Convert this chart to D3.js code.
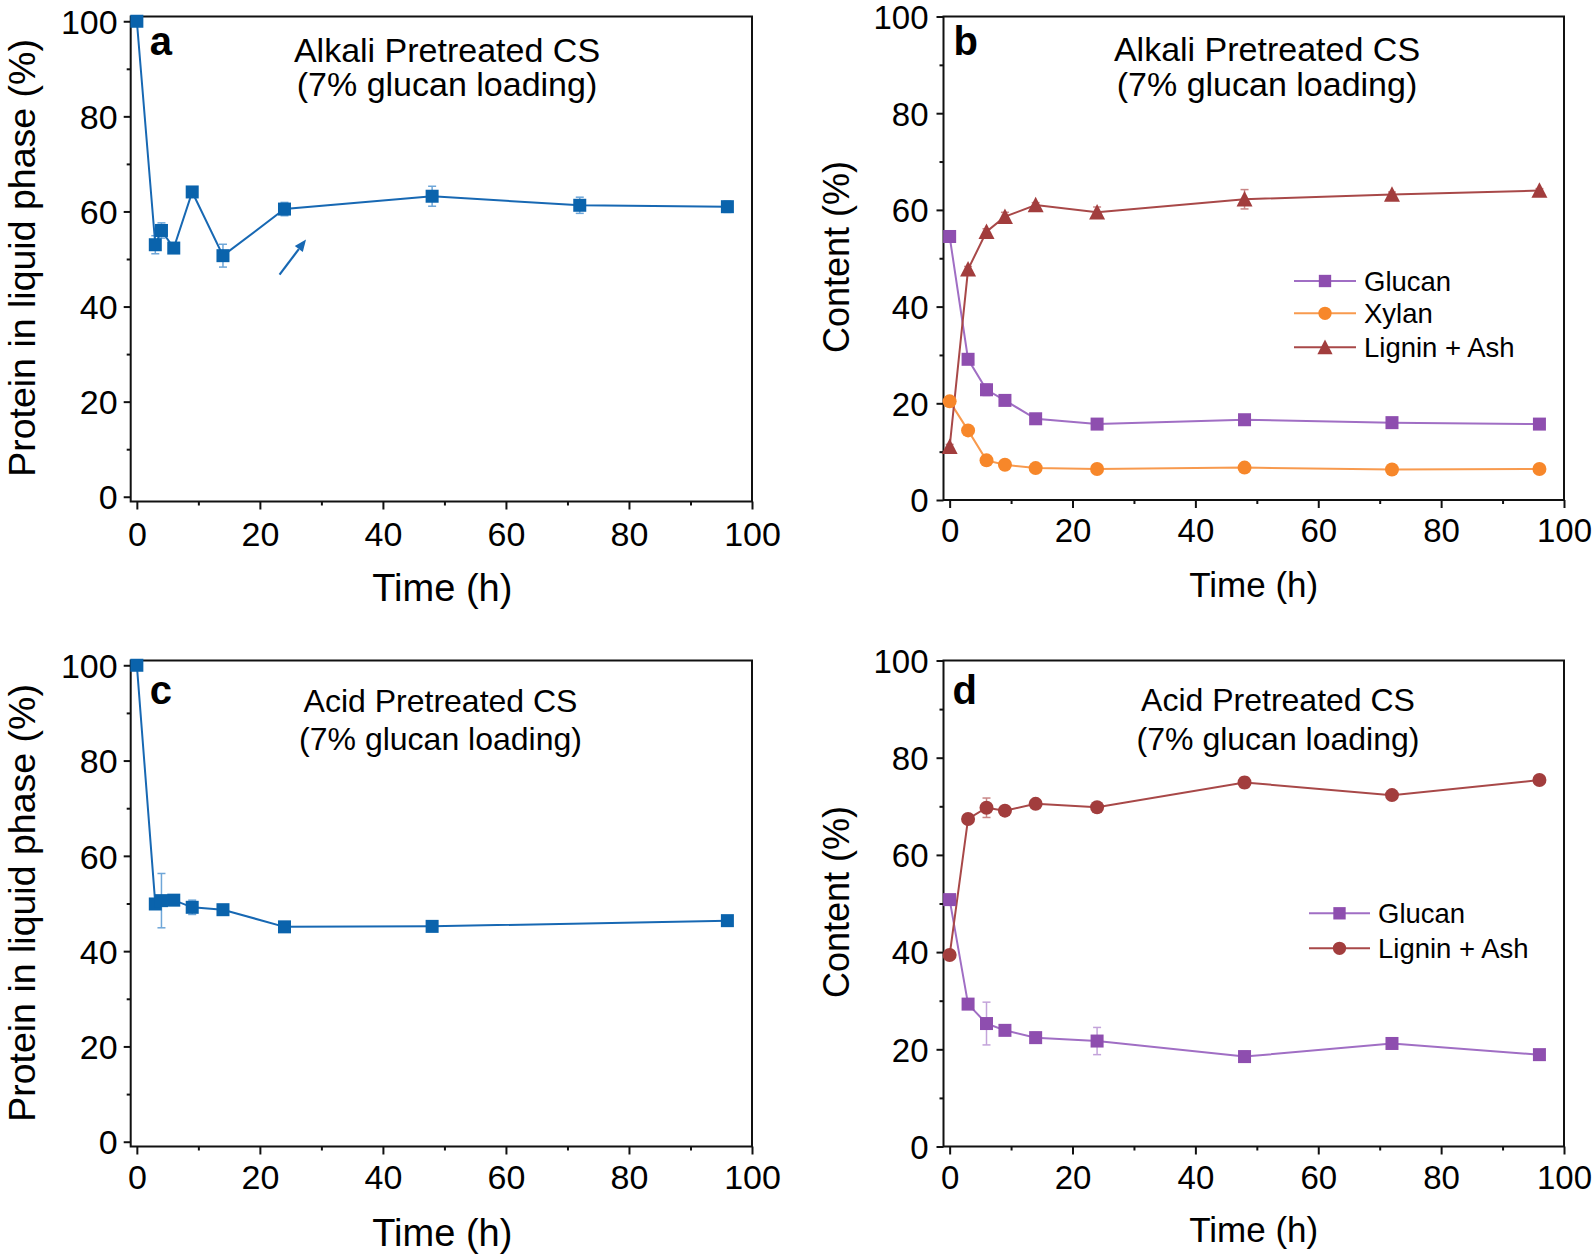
<!DOCTYPE html>
<html>
<head>
<meta charset="utf-8">
<script src="https://cdn.jsdelivr.net/npm/d3@7"></script>
<style>
  html, body { margin: 0; padding: 0; background: #fff; }
  svg { display: block; }
  text { font-family: "Liberation Sans", Arial, Helvetica, sans-serif; fill: #000; }
</style>
</head>
<body>
<svg id="chart" width="1595" height="1256"></svg>
<script>
// ---------------- DATA ----------------
const xTicks = [0, 20, 40, 60, 80, 100];
const xMinorTicks = [10, 30, 50, 70, 90];
const yTicks = [0, 20, 40, 60, 80, 100];
const yMinorTicks = [10, 30, 50, 70, 90];

// Panel a: alkali pretreated, protein in liquid phase
const timeA = [0, 3, 4, 6, 9, 14, 24, 48, 72, 96];
const proteinA = [100, 53.0, 56.0, 52.3, 64.1, 50.7, 60.5, 63.2, 61.3, 61.0];
const proteinAErr = [0, 1.9, 1.6, 0.6, 0.9, 2.4, 1.4, 2.1, 1.7, 1.2];
const arrowA = [[23.2, 46.7], [27.5, 54.1]];   // annotation arrow (time, %)

// Panel b: alkali pretreated, solid composition
const timeB = [0, 3, 6, 9, 14, 24, 48, 72, 96];
const glucanB = [54.5, 29.1, 22.8, 20.6, 16.8, 15.7, 16.6, 16.0, 15.7];
const glucanBErr = [0.4, 0.5, 1.2, 1.0, 0.6, 0.4, 0.5, 0.4, 0.4];
const xylanB = [20.4, 14.4, 8.2, 7.3, 6.6, 6.4, 6.7, 6.3, 6.4];
const xylanBErr = [0.3, 0.4, 0.4, 0.3, 0.3, 0.3, 0.3, 0.3, 0.3];
const ligninB = [11.0, 47.7, 55.5, 58.6, 61.0, 59.5, 62.2, 63.2, 64.0];
const ligninBErr = [0.5, 0.6, 0.6, 0.9, 0.5, 1.1, 2.0, 0.5, 0.4];

// Panel c: acid pretreated, protein in liquid phase
const timeC = [0, 3, 4, 6, 9, 14, 24, 48, 96];
const proteinC = [100, 49.9, 50.6, 50.7, 49.2, 48.7, 45.1, 45.2, 46.4];
const proteinCErr = [0, 0.5, 5.7, 0.8, 1.5, 0.6, 0.4, 0.4, 0.5];

// Panel d: acid pretreated, solid composition
const timeD = [0, 3, 6, 9, 14, 24, 48, 72, 96];
const glucanD = [50.8, 29.3, 25.3, 23.9, 22.4, 21.7, 18.5, 21.2, 18.9];
const glucanDErr = [0.5, 0.6, 4.4, 0.6, 1.1, 2.8, 1.1, 0.5, 0.4];
const ligninD = [39.4, 67.4, 69.7, 69.1, 70.5, 69.8, 74.9, 72.3, 75.4];
const ligninDErr = [0.4, 0.5, 2.0, 0.5, 0.6, 0.4, 1.1, 0.5, 0.4];

// ---------------- STYLE ----------------
const COLORS = {
  blue:   { marker: "#0A63AC", line: "#1768B3", err: "#6EA6D8" },
  purple: { marker: "#8E4EAF", line: "#A06EC4", err: "#C3A3DA" },
  orange: { marker: "#F7872A", line: "#F89A4E", err: "#FBC08F" },
  brown:  { marker: "#A23D3D", line: "#A84848", err: "#C98686" }
};

const svg = d3.select("#chart");

function makePanel(cfg) {
  const g = svg.append("g");
  const x = d3.scaleLinear().domain(cfg.xDomain).range([cfg.L, cfg.R]);
  const y = d3.scaleLinear().domain(cfg.yDomain).range([cfg.B, cfg.T]);

  // frame
  g.append("rect")
    .attr("x", cfg.L).attr("y", cfg.T)
    .attr("width", cfg.R - cfg.L).attr("height", cfg.B - cfg.T)
    .attr("fill", "none").attr("stroke", "#111").attr("stroke-width", 2);

  // bottom axis: major + minor
  const xAxis = d3.axisBottom(x).tickValues(xTicks).tickSize(8).tickSizeOuter(0).tickPadding(8);
  const xa = g.append("g").attr("transform", `translate(0,${cfg.B})`).call(xAxis);
  xa.select(".domain").remove();
  xa.selectAll(".tick line").attr("stroke", "#111").attr("stroke-width", 2);
  xa.selectAll(".tick text").attr("font-size", cfg.tickFont)
    .attr("font-family", '"Liberation Sans", Arial, sans-serif').attr("fill", "#000")
    .attr("dy", null).attr("y", cfg.xLabelOffset).attr("dominant-baseline", "alphabetic");
  const xm = g.append("g").attr("transform", `translate(0,${cfg.B})`)
    .call(d3.axisBottom(x).tickValues(xMinorTicks).tickSize(4).tickFormat(""));
  xm.select(".domain").remove();
  xm.selectAll(".tick line").attr("stroke", "#111").attr("stroke-width", 2);

  // left axis: major + minor
  const yAxis = d3.axisLeft(y).tickValues(yTicks).tickSize(7).tickPadding(cfg.yPad);
  const ya = g.append("g").attr("transform", `translate(${cfg.L},0)`).call(yAxis);
  ya.select(".domain").remove();
  ya.selectAll(".tick line").attr("stroke", "#111").attr("stroke-width", 2);
  ya.selectAll(".tick text").attr("font-size", cfg.tickFont)
    .attr("font-family", '"Liberation Sans", Arial, sans-serif').attr("fill", "#000")
    .attr("dy", "0.36em");
  const ym = g.append("g").attr("transform", `translate(${cfg.L},0)`)
    .call(d3.axisLeft(y).tickValues(yMinorTicks).tickSize(4).tickFormat(""));
  ym.select(".domain").remove();
  ym.selectAll(".tick line").attr("stroke", "#111").attr("stroke-width", 2);

  // axis titles
  g.append("text")
    .attr("x", (cfg.L + cfg.R) / 2 + cfg.xTitleDx).attr("y", cfg.xTitleY)
    .attr("text-anchor", "middle").attr("font-size", cfg.axisFont)
    .text("Time (h)");
  g.append("text")
    .attr("transform", `translate(${cfg.yTitleX},${cfg.yTitleCY}) rotate(-90)`)
    .attr("text-anchor", "middle").attr("font-size", cfg.yAxisFont)
    .text(cfg.yTitle);

  // panel letter
  g.append("text").attr("x", cfg.L + cfg.letterDx).attr("y", cfg.letterY)
    .attr("font-size", 40).attr("font-weight", "bold").text(cfg.letter);

  // panel title
  cfg.title.forEach((line, i) => {
    g.append("text").attr("x", cfg.titleX).attr("y", cfg.titleY[i])
      .attr("text-anchor", "middle").attr("font-size", cfg.titleFont).text(line);
  });

  // series
  const lineGen = d3.line().x(d => x(d.t)).y(d => y(d.v));
  cfg.series.forEach(s => {
    const pts = s.times.map((t, i) => ({ t, v: s.values[i], e: s.errs[i] }));
    const col = COLORS[s.color];
    // error bars
    const eb = g.append("g").attr("stroke", col.err).attr("stroke-width", 1.5);
    pts.filter(p => p.e > 0).forEach(p => {
      const cx = x(p.t), y1 = y(p.v + p.e), y2 = y(p.v - p.e);
      eb.append("line").attr("x1", cx).attr("x2", cx).attr("y1", y1).attr("y2", y2);
      eb.append("line").attr("x1", cx - 4).attr("x2", cx + 4).attr("y1", y1).attr("y2", y1);
      eb.append("line").attr("x1", cx - 4).attr("x2", cx + 4).attr("y1", y2).attr("y2", y2);
    });
    g.append("path").datum(pts).attr("d", lineGen)
      .attr("fill", "none").attr("stroke", col.line).attr("stroke-width", 2);
    s.pts = pts;
  });
  cfg.series.forEach(s => {
    const col = COLORS[s.color];
    s.pts.forEach(p => drawMarker(g, s.shape, x(p.t), y(p.v), col.marker));
  });

  // legend
  if (cfg.legend) {
    cfg.legend.rows.forEach((r, i) => {
      const col = COLORS[r.color];
      const yy = cfg.legend.y[i];
      g.append("line").attr("x1", cfg.legend.x1).attr("x2", cfg.legend.x2)
        .attr("y1", yy).attr("y2", yy).attr("stroke", col.line).attr("stroke-width", 2);
      drawMarker(g, r.shape, (cfg.legend.x1 + cfg.legend.x2) / 2, yy, col.marker, 0.95);
      g.append("text").attr("x", cfg.legend.tx).attr("y", yy).attr("dy", "0.35em")
        .attr("font-size", 27.5).text(r.label);
    });
  }

  // annotation arrow
  if (cfg.arrow) {
    const [p0, p1] = cfg.arrow;
    const x0 = x(p0[0]), y0 = y(p0[1]), x1 = x(p1[0]), y1 = y(p1[1]);
    const ang = Math.atan2(y1 - y0, x1 - x0);
    const hl = 12, hw = 5;
    const bx = x1 - hl * Math.cos(ang), by = y1 - hl * Math.sin(ang);
    g.append("line").attr("x1", x0).attr("y1", y0).attr("x2", bx).attr("y2", by)
      .attr("stroke", COLORS.blue.line).attr("stroke-width", 2.2);
    g.append("path")
      .attr("d", `M${x1},${y1} L${bx + hw * Math.sin(ang)},${by - hw * Math.cos(ang)} L${bx - hw * Math.sin(ang)},${by + hw * Math.cos(ang)} Z`)
      .attr("fill", COLORS.blue.line);
  }
}

function drawMarker(g, shape, cx, cy, color, k = 1) {
  if (shape === "square") {
    const s = 13 * k;
    g.append("rect").attr("x", cx - s / 2).attr("y", cy - s / 2).attr("width", s).attr("height", s)
      .attr("fill", color);
  } else if (shape === "circle") {
    g.append("circle").attr("cx", cx).attr("cy", cy).attr("r", 7 * k).attr("fill", color);
  } else if (shape === "triangle") {
    const w = 16 * k, h = 14.5 * k;
    g.append("path")
      .attr("d", `M${cx},${cy - h / 2 - 1} L${cx + w / 2},${cy + h / 2} L${cx - w / 2},${cy + h / 2} Z`)
      .attr("fill", color);
  }
}

// ---------------- PANELS ----------------
makePanel({
  letter: "a", L: 130.7, R: 752, T: 16.5, B: 501.5, xDomain: [-1, 100], yDomain: [-1, 101],
  tickFont: 34, axisFont: 38, yAxisFont: 37.5, titleFont: 34, xLabelOffset: 44, yPad: 6,
  xTitleDx: 1, xTitleY: 601, yTitleX: 35, yTitleCY: 258, yTitle: "Protein in liquid phase (%)",
  letterDx: 19, letterY: 55,
  title: ["Alkali Pretreated CS", "(7% glucan loading)"], titleX: 447, titleY: [61.5, 96],
  series: [{ times: timeA, values: proteinA, errs: proteinAErr, color: "blue", shape: "square" }],
  arrow: arrowA
});

makePanel({
  letter: "b", L: 943.5, R: 1564, T: 16.5, B: 500, xDomain: [-1, 100], yDomain: [0, 100],
  tickFont: 33, axisFont: 35, yAxisFont: 36, titleFont: 34, xLabelOffset: 42, yPad: 8,
  xTitleDx: 0, xTitleY: 597, yTitleX: 849, yTitleCY: 257, yTitle: "Content (%)",
  letterDx: 10, letterY: 54.5,
  title: ["Alkali Pretreated CS", "(7% glucan loading)"], titleX: 1267, titleY: [61, 96],
  series: [
    { times: timeB, values: glucanB, errs: glucanBErr, color: "purple", shape: "square" },
    { times: timeB, values: xylanB, errs: xylanBErr, color: "orange", shape: "circle" },
    { times: timeB, values: ligninB, errs: ligninBErr, color: "brown", shape: "triangle" }
  ],
  legend: {
    x1: 1294, x2: 1356, tx: 1364, y: [281, 313.3, 347.3],
    rows: [
      { label: "Glucan", color: "purple", shape: "square" },
      { label: "Xylan", color: "orange", shape: "circle" },
      { label: "Lignin + Ash", color: "brown", shape: "triangle" }
    ]
  }
});

makePanel({
  letter: "c", L: 130.7, R: 752, T: 660.5, B: 1146.5, xDomain: [-1, 100], yDomain: [-1, 101],
  tickFont: 34, axisFont: 38, yAxisFont: 37.5, titleFont: 32, xLabelOffset: 42, yPad: 6,
  xTitleDx: 1, xTitleY: 1246, yTitleX: 35, yTitleCY: 903, yTitle: "Protein in liquid phase (%)",
  letterDx: 19, letterY: 704,
  title: ["Acid Pretreated CS", "(7% glucan loading)"], titleX: 440.5, titleY: [712, 750],
  series: [{ times: timeC, values: proteinC, errs: proteinCErr, color: "blue", shape: "square" }]
});

makePanel({
  letter: "d", L: 943.5, R: 1564, T: 660.5, B: 1146.5, xDomain: [-1, 100], yDomain: [0, 100],
  tickFont: 33, axisFont: 35, yAxisFont: 36, titleFont: 32, xLabelOffset: 42, yPad: 8,
  xTitleDx: 0, xTitleY: 1242, yTitleX: 849, yTitleCY: 902, yTitle: "Content (%)",
  letterDx: 9, letterY: 704,
  title: ["Acid Pretreated CS", "(7% glucan loading)"], titleX: 1278, titleY: [711, 750],
  series: [
    { times: timeD, values: glucanD, errs: glucanDErr, color: "purple", shape: "square" },
    { times: timeD, values: ligninD, errs: ligninDErr, color: "brown", shape: "circle" }
  ],
  legend: {
    x1: 1309, x2: 1370, tx: 1378, y: [913.3, 948.3],
    rows: [
      { label: "Glucan", color: "purple", shape: "square" },
      { label: "Lignin + Ash", color: "brown", shape: "circle" }
    ]
  }
});
</script>
</body>
</html>
